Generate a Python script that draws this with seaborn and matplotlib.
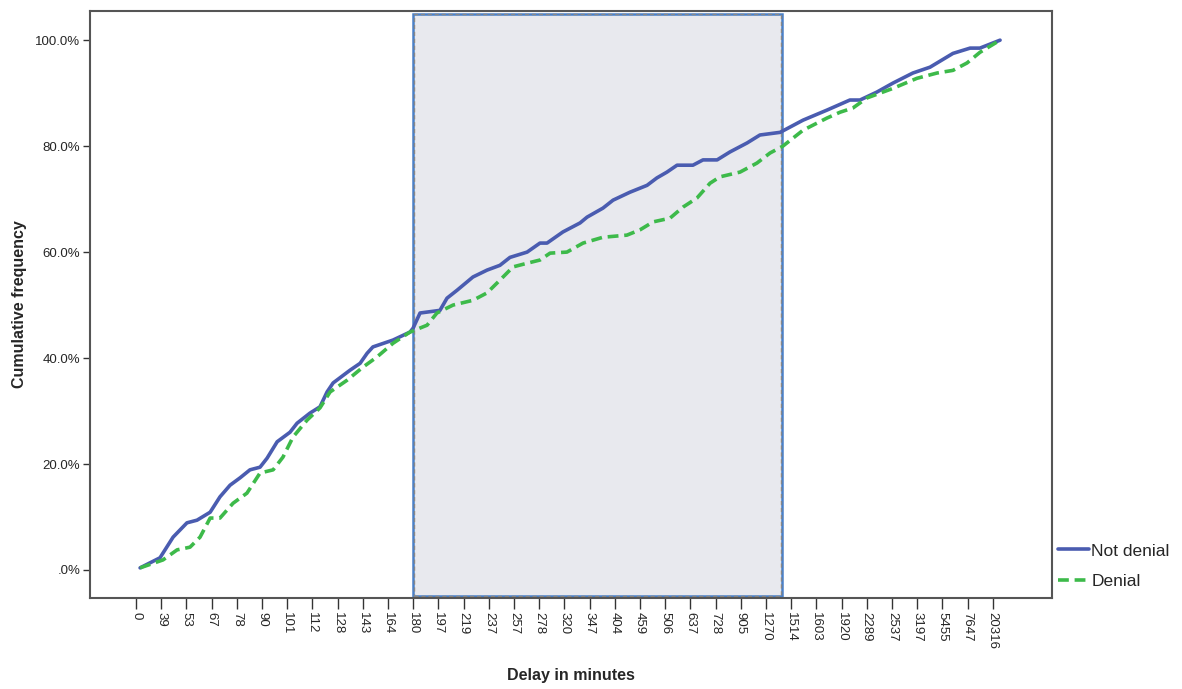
import numpy as np
import pandas as pd
import matplotlib
matplotlib.use("Agg")
import matplotlib.pyplot as plt
from matplotlib.patches import Rectangle
import seaborn as sns

# category labels shown on the x axis (one tick per shown category)
tick_labels = ["0", "39", "53", "67", "78", "90", "101", "112", "128", "143",
               "164", "180", "197", "219", "237", "257", "278", "320", "347",
               "404", "459", "506", "637", "728", "905", "1270", "1514", "1603",
               "1920", "2289", "2537", "3197", "5455", "7647", "20316"]

# curves: position in tick units, cumulative %
nd_pos = [0.16, 0.95, 1.47, 2.02, 2.42, 2.94, 3.33, 3.73, 4.13, 4.52, 4.92, 5.20,
          5.60, 6.11, 6.39, 6.90, 7.30, 7.58, 7.82, 8.49, 8.89, 9.17, 9.40, 10.20,
          10.87, 10.99, 11.27, 12.06, 12.34, 12.74, 13.37, 13.93, 14.44, 14.84,
          15.52, 16.03, 16.31, 16.94, 17.62, 17.90, 18.53, 18.93, 19.60, 20.28,
          20.67, 21.07, 21.47, 22.10, 22.50, 23.06, 23.57, 24.25, 24.76, 25.56,
          26.47, 27.42, 28.33, 28.73, 29.40, 30.04, 30.83, 31.51, 32.42, 33.10,
          33.49, 34.29]
nd_pct = [0.4, 2.3, 6.2, 8.9, 9.4, 10.9, 13.8, 16.0, 17.4, 18.9, 19.4, 21.1,
          24.2, 26.0, 27.7, 29.6, 30.8, 33.6, 35.3, 37.7, 39.0, 40.9, 42.1, 43.4,
          44.9, 45.6, 48.5, 49.0, 51.3, 52.8, 55.3, 56.6, 57.5, 59.0,
          60.0, 61.7, 61.7, 63.8, 65.5, 66.6, 68.3, 69.8, 71.3, 72.6,
          74.0, 75.1, 76.4, 76.4, 77.4, 77.4, 78.9, 80.6, 82.1, 82.6,
          84.9, 86.8, 88.7, 88.7, 90.2, 91.9, 93.8, 94.9, 97.5, 98.5,
          98.5, 100.0]

d_pos = [0.16, 1.07, 1.63, 2.14, 2.54, 2.94, 3.33, 3.85, 4.40, 4.92, 5.44, 5.83,
         6.23, 6.79, 7.30, 7.70, 8.37, 9.01, 9.56, 10.20, 10.87, 11.55, 11.94,
         12.58, 13.37, 13.93, 14.44, 14.96, 15.52, 16.03, 16.43, 17.10, 17.74,
         18.53, 19.48, 20.00, 20.52, 21.19, 21.71, 22.26, 22.78, 23.17, 23.97,
         24.64, 25.16, 25.67, 26.47, 27.42, 27.94, 28.45, 29.01, 30.04, 30.99,
         31.79, 32.42, 32.98, 33.49, 34.29]
d_pct = [0.4, 1.9, 3.8, 4.3, 6.2, 9.8, 9.8, 12.6, 14.5, 18.3, 18.9, 21.3,
         25.1, 28.3, 30.6, 33.6, 35.8, 38.3, 40.2, 42.8, 44.9, 46.2, 48.5,
         50.0, 50.9, 52.3, 54.7, 57.2, 57.9, 58.5, 59.8, 60.0, 61.7,
         62.8, 63.2, 64.2, 65.7, 66.4, 68.5, 70.2, 73.0, 74.2, 75.1,
         76.8, 78.7, 80.0, 83.0, 85.3, 86.4, 87.2, 89.1, 90.9, 92.8,
         93.8, 94.3, 95.7, 97.7, 100.0]

# highlighted span (tick units / percent)
span_x = (10.99, 25.63)
span_y = (-4.9, 104.9)

df = pd.concat([
    pd.DataFrame({"pos": nd_pos, "pct": nd_pct, "group": "Not denial"}),
    pd.DataFrame({"pos": d_pos, "pct": d_pct, "group": "Denial"}),
])

sns.set_style("white")
plt.rcParams['font.family'] = ['Liberation Sans', 'DejaVu Sans']

fig = plt.figure(figsize=(11.82, 6.89), dpi=100)
ax = fig.add_axes([0.0761, 0.132, 0.8139, 0.852])

ax.add_patch(Rectangle((span_x[0], span_y[0]), span_x[1] - span_x[0],
                       span_y[1] - span_y[0], facecolor="#e8e9ee",
                       edgecolor="#4a80c8", linewidth=1.8, zorder=0))
ax.add_patch(Rectangle((span_x[0] + 0.04, span_y[0]), span_x[1] - span_x[0] - 0.08,
                       span_y[1] - span_y[0], facecolor="none",
                       edgecolor="#888888", linewidth=1, linestyle=(0, (3, 2)),
                       zorder=0))

sns.lineplot(data=df, x="pos", y="pct", hue="group", style="group",
             palette={"Not denial": "#4a5cb0", "Denial": "#3dba4a"},
             dashes={"Not denial": "", "Denial": (3, 1.6)},
             linewidth=2.6, sort=False, ax=ax)

ax.set_xlim(-1.83, 36.35)
ax.set_ylim(-5.3, 105.5)
ax.set_xticks(range(len(tick_labels)))
ax.set_xticklabels(tick_labels, rotation=270, fontsize=9.5, va="top")
ax.set_yticks([0, 20, 40, 60, 80, 100])
ax.set_yticklabels([".0%", "20.0%", "40.0%", "60.0%", "80.0%", "100.0%"], fontsize=9.5)
ax.tick_params(axis="x", direction="out", length=8, width=1, color="#333333", pad=2)
ax.tick_params(axis="y", direction="out", length=5, width=1, color="#333333", pad=2)
ax.xaxis.set_ticks_position("bottom")
ax.yaxis.set_ticks_position("left")

for s in ax.spines.values():
    s.set_color("#555555")
    s.set_linewidth(1.5)

ax.set_xlabel("Delay in minutes", fontsize=11.5, fontweight="bold", labelpad=14)
ax.set_ylabel("Cumulative frequency", fontsize=11.5, fontweight="bold", labelpad=6)

leg = ax.legend(loc="lower left", bbox_to_anchor=(0.9995, 0.003), frameon=False,
                fontsize=12.5, handlelength=1.75, handletextpad=0.15,
                labelspacing=0.9, borderaxespad=0.0)

fig.savefig("out.png", dpi=100)
